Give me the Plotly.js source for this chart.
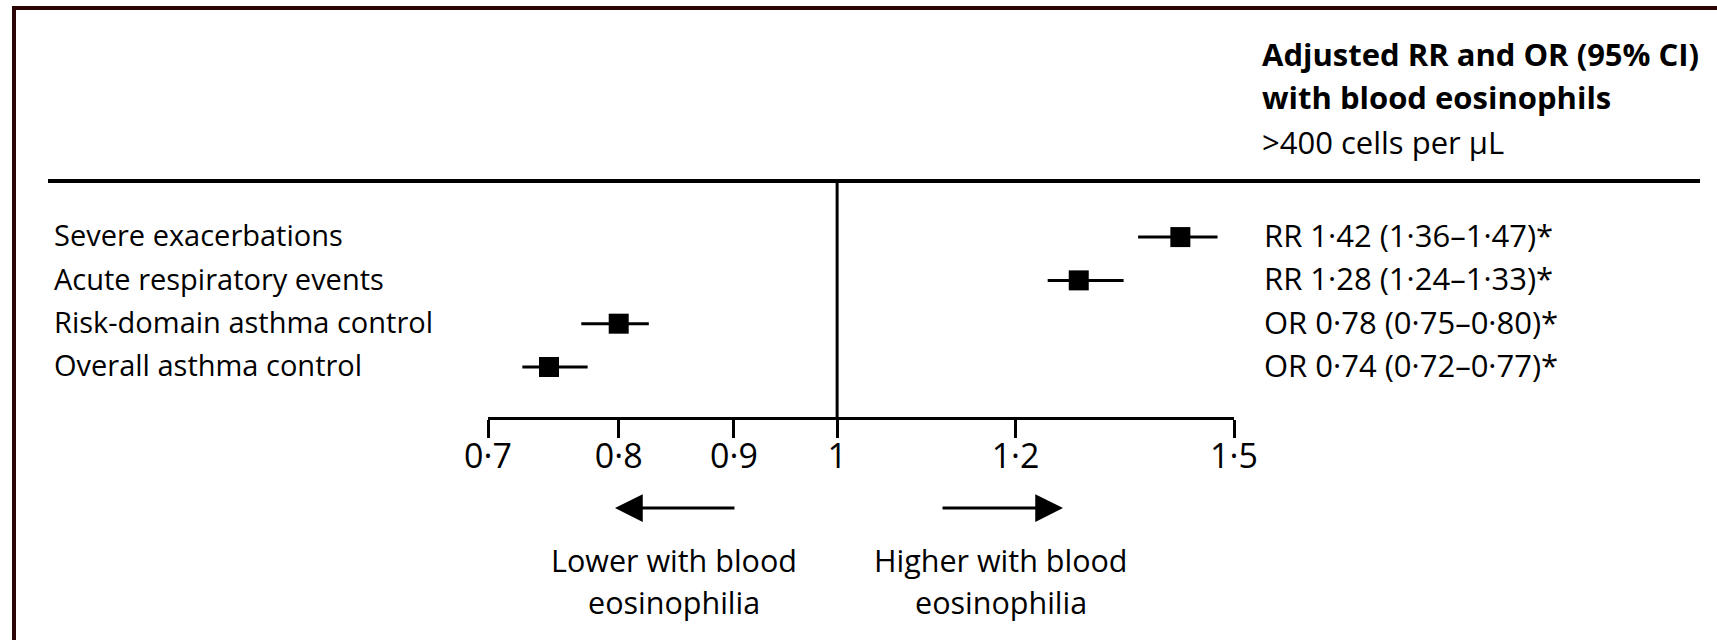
<!DOCTYPE html>
<html>
<head>
<meta charset="utf-8">
<script src="https://cdn.plot.ly/plotly-3.0.1.min.js"></script>
<style>
  html, body { margin: 0; padding: 0; background: #ffffff; }
  #frame { position: absolute; left: 12px; top: 6px; width: 1720px; height: 640px;
           border-left: 4px solid #2b0505; border-top: 4px solid #2b0505; pointer-events: none; z-index: 5; }
  #chart { position: absolute; left: 0; top: 0; width: 1717px; height: 640px; }
</style>
</head>
<body>
<div id="chart"></div>
<div id="frame"></div>
<script>
// ---- data ----
const categories = [
  'Severe exacerbations',
  'Acute respiratory events',
  'Risk-domain asthma control',
  'Overall asthma control'
];
// point estimates and 95% CI as drawn in the figure
const estimates = [1.42, 1.28, 0.80, 0.745];
const lowerCI   = [1.36, 1.24, 0.77, 0.725];
const upperCI   = [1.475, 1.34, 0.825, 0.775];
const ciLabels = [
  'RR 1·42 (1·36–1·47)*',
  'RR 1·28 (1·24–1·33)*',
  'OR 0·78 (0·75–0·80)*',
  'OR 0·74 (0·72–0·77)*'
];
const tickVals = [0.7, 0.8, 0.9, 1, 1.2, 1.5];
const tickText = ['0·7', '0·8', '0·9', '1', '1·2', '1·5'];
const headerLines = ['Adjusted RR and OR (95% CI)', 'with blood eosinophils', '>400 cells per μL'];
const lowerLines = ['Lower with blood', 'eosinophilia'];
const higherLines = ['Higher with blood', 'eosinophilia'];

// ---- drawing ----
const FONT = '"Open Sans", "Noto Sans", sans-serif';
const rowY = categories.map((c, i) => categories.length - 1 - i);

const trace = {
  type: 'scatter',
  mode: 'markers',
  x: estimates,
  y: rowY,
  marker: { symbol: 'square', size: 20, color: '#000000' },
  error_x: {
    type: 'data', symmetric: false,
    array: upperCI.map((u, i) => u - estimates[i]),
    arrayminus: lowerCI.map((l, i) => estimates[i] - l),
    color: '#000000', thickness: 3, width: 0
  },
  hoverinfo: 'skip',
  cliponaxis: false,
  showlegend: false
};

const labelFont = { family: FONT, size: 29, color: '#000000' };
const ciFont = { family: FONT, size: 31, color: '#000000' };
const headFont = { family: FONT, size: 31, color: '#000000' };
const dirFont = { family: FONT, size: 30.5, color: '#000000' };
const annotations = [];

categories.forEach((c, i) => {
  annotations.push({ xref: 'paper', yref: 'y', x: -0.5845, y: rowY[i] + 0.05, text: c,
    xanchor: 'left', yanchor: 'middle', showarrow: false, font: labelFont });
  annotations.push({ xref: 'paper', yref: 'y', x: 1.0375, y: rowY[i] + 0.05, text: ciLabels[i],
    xanchor: 'left', yanchor: 'middle', showarrow: false, font: ciFont });
});

const headerY = [1.54, 1.357, 1.167];
headerLines.forEach((t, i) => {
  annotations.push({ xref: 'paper', yref: 'paper', x: 1.0345, y: headerY[i],
    text: i < 2 ? '<b>' + t + '</b>' : t,
    xanchor: 'left', yanchor: 'middle', showarrow: false, font: headFont });
});

// direction arrows
annotations.push({ xref: 'paper', yref: 'paper', x: 0.1702, y: -0.3856, ax: 121, ay: 0,
  text: '', showarrow: true, arrowhead: 2, arrowsize: 1.85, arrowwidth: 3, arrowcolor: '#000000' });
annotations.push({ xref: 'paper', yref: 'paper', x: 0.7708, y: -0.3856, ax: -122, ay: 0,
  text: '', showarrow: true, arrowhead: 2, arrowsize: 1.85, arrowwidth: 3, arrowcolor: '#000000' });

const dirY = [-0.606, -0.784];
lowerLines.forEach((t, i) => {
  annotations.push({ xref: 'paper', yref: 'paper', x: 0.2493, y: dirY[i], text: t,
    xanchor: 'center', yanchor: 'middle', showarrow: false, font: dirFont });
});
higherLines.forEach((t, i) => {
  annotations.push({ xref: 'paper', yref: 'paper', x: 0.6877, y: dirY[i], text: t,
    xanchor: 'center', yanchor: 'middle', showarrow: false, font: dirFont });
});

const layout = {
  width: 1717, height: 640,
  margin: { l: 488, r: 483, t: 181, b: 223, pad: 0 },
  paper_bgcolor: '#ffffff', plot_bgcolor: '#ffffff',
  font: labelFont,
  showlegend: false,
  xaxis: {
    type: 'log',
    range: [Math.log10(0.7), Math.log10(1.5)],
    tickvals: tickVals, ticktext: tickText,
    ticks: 'outside', ticklen: 18, tickwidth: 3, tickcolor: '#000000',
    ticklabelstandoff: -11,
    showline: true, linewidth: 3, linecolor: '#000000',
    showgrid: false, zeroline: false,
    tickfont: { family: FONT, size: 34, color: '#000000' },
    fixedrange: true
  },
  yaxis: {
    range: [-1.155, 4.295],
    visible: false, showgrid: false, zeroline: false, fixedrange: true
  },
  shapes: [
    { type: 'line', xref: 'paper', yref: 'paper', x0: -0.5898, x1: 1.6247, y0: 1, y1: 1,
      line: { color: '#000000', width: 4 } },
    { type: 'line', xref: 'x', yref: 'paper', x0: 1, x1: 1, y0: 0, y1: 1,
      line: { color: '#000000', width: 3 } }
  ],
  annotations: annotations
};

Plotly.newPlot('chart', [trace], layout, { staticPlot: true, displayModeBar: false });
</script>
</body>
</html>
